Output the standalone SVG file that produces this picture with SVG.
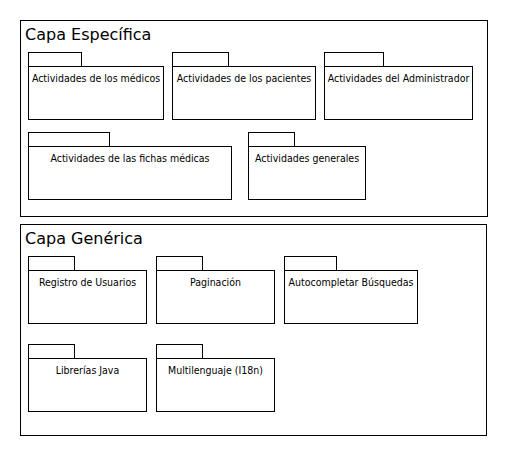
<svg xmlns="http://www.w3.org/2000/svg" width="508" height="456" viewBox="0 0 508 456">
<style>
.frame{fill:#fff;stroke:#000;stroke-width:1}
.pkg{fill:#fff;stroke:#000;stroke-width:1}
.title{font-family:"DejaVu Sans",Verdana,sans-serif;font-size:16px;fill:#000}
.lbl{font-family:"DejaVu Sans Condensed","DejaVu Sans",sans-serif;font-stretch:condensed;font-size:10.5px;fill:#000;text-anchor:middle}
</style>
<rect width="508" height="456" fill="#fff"/>
<g id="capa-especifica">
<rect class="frame" x="20.5" y="20.5" width="467" height="196"/>
<text class="title" x="25" y="40">Capa Específica</text>
</g>
<g id="act-medicos">
<rect class="pkg" x="28.5" y="52.5" width="53" height="14"/>
<rect class="pkg" x="28.5" y="66.5" width="135" height="53"/>
<text class="lbl" x="96" y="82">Actividades de los médicos</text>
</g>
<g id="act-pacientes">
<rect class="pkg" x="172.5" y="52.5" width="56" height="14"/>
<rect class="pkg" x="172.5" y="66.5" width="143" height="53"/>
<text class="lbl" x="244" y="82">Actividades de los pacientes</text>
</g>
<g id="act-admin">
<rect class="pkg" x="324.5" y="52.5" width="59" height="14"/>
<rect class="pkg" x="324.5" y="66.5" width="148" height="53"/>
<text class="lbl" x="398.5" y="82">Actividades del Administrador</text>
</g>
<g id="act-fichas">
<rect class="pkg" x="28.5" y="132.5" width="81" height="14"/>
<rect class="pkg" x="28.5" y="146.5" width="203" height="53"/>
<text class="lbl" x="130" y="162">Actividades de las fichas médicas</text>
</g>
<g id="act-generales">
<rect class="pkg" x="248.5" y="132.5" width="46" height="14"/>
<rect class="pkg" x="248.5" y="146.5" width="117" height="53"/>
<text class="lbl" x="307" y="162">Actividades generales</text>
</g>
<g id="capa-generica">
<rect class="frame" x="20.5" y="224.5" width="466" height="211"/>
<text class="title" x="25" y="244">Capa Genérica</text>
</g>
<g id="registro">
<rect class="pkg" x="28.5" y="256.5" width="46" height="14"/>
<rect class="pkg" x="28.5" y="270.5" width="118" height="53"/>
<text class="lbl" x="87.5" y="286">Registro de Usuarios</text>
</g>
<g id="paginacion">
<rect class="pkg" x="156.5" y="256.5" width="46" height="14"/>
<rect class="pkg" x="156.5" y="270.5" width="118" height="53"/>
<text class="lbl" x="215.5" y="286">Paginación</text>
</g>
<g id="autocompletar">
<rect class="pkg" x="284.5" y="256.5" width="52" height="14"/>
<rect class="pkg" x="284.5" y="270.5" width="133" height="53"/>
<text class="lbl" x="351" y="286">Autocompletar Búsquedas</text>
</g>
<g id="librerias">
<rect class="pkg" x="28.5" y="344.5" width="46" height="14"/>
<rect class="pkg" x="28.5" y="358.5" width="118" height="53"/>
<text class="lbl" x="87.5" y="374">Librerías Java</text>
</g>
<g id="multilenguaje">
<rect class="pkg" x="156.5" y="344.5" width="46" height="14"/>
<rect class="pkg" x="156.5" y="358.5" width="118" height="53"/>
<text class="lbl" x="215.5" y="374">Multilenguaje (I18n)</text>
</g>
<g id="connectors"></g>
</svg>
